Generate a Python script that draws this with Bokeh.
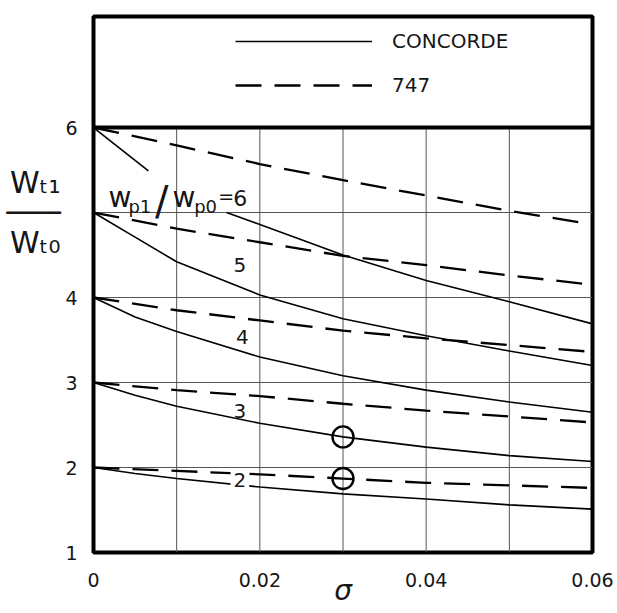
from bokeh.plotting import figure
from bokeh.models import FixedTicker, Span, Label, Legend, LegendItem, LinearAxis
from bokeh.core.properties import value
from bokeh.embed import file_html
from bokeh.resources import INLINE

nan = float("nan")

# ---- data ----
sigma = [0, 0.005, 0.01, 0.02, 0.03, 0.04, 0.05, 0.06]
concorde_2 = [2, 1.93, 1.87, 1.77, 1.69, 1.63, 1.56, 1.51]
concorde_3 = [3, 2.85, 2.72, 2.52, 2.36, 2.24, 2.14, 2.07]
concorde_4 = [4, 3.77, 3.60, 3.30, 3.08, 2.91, 2.77, 2.65]
concorde_5 = [5, 4.71, 4.42, 4.03, 3.75, 3.55, 3.37, 3.20]
# ratio 6 curve is interrupted by its label
sigma_c6 = [0, 0.0066, nan, 0.016, 0.02, 0.03, 0.04, 0.05, 0.06]
concorde_6 = [6, 5.49, nan, 5.00, 4.86, 4.50, 4.20, 3.95, 3.69]

sigma_747 = [0, 0.01, 0.02, 0.03, 0.04, 0.05, 0.06]
b747_2 = [2, 1.96, 1.92, 1.87, 1.82, 1.79, 1.76]
b747_3 = [3, 2.91, 2.84, 2.75, 2.67, 2.60, 2.53]
b747_4 = [4, 3.85, 3.73, 3.61, 3.52, 3.44, 3.36]
b747_5 = [5, 4.81, 4.65, 4.49, 4.38, 4.26, 4.15]
b747_6 = [6, 5.79, 5.57, 5.38, 5.20, 5.02, 4.86]

circle_sigma = [0.03, 0.03]
circle_ratio = [2.36, 1.87]

line_label_text = ["5", "4", "3"]
line_label_sigma = [0.0176, 0.0179, 0.0176]
line_label_ratio = [4.38, 3.53, 2.67]
label2_text = ["2"]
label2_sigma = [0.0176]
label2_ratio = [1.85]

x_ticks = [0, 0.02, 0.04, 0.06]
x_tick_labels = ["0", "0.02", "0.04", "0.06"]
y_ticks = [1, 2, 3, 4, 6]
y_title_tick = 5
y_title = "W\u209c\u2081\n\u2500\u2500\u2500\nW\u209c\u2080"
grid_x = [0.01, 0.02, 0.03, 0.04, 0.05]
grid_y = [2, 3, 4, 5]

FONT = "DejaVu Sans"
INK = "#161616"

p = figure(frame_width=499, frame_height=536, x_range=(0, 0.06), y_range=(1, 7.306),
           min_border_left=93, min_border_right=22, min_border_top=16, min_border_bottom=61,
           output_backend="svg", toolbar_location=None)
p.background_fill_color = "white"
p.border_fill_color = "white"
p.outline_line_color = "black"
p.outline_line_width = 4
p.xgrid.visible = False
p.ygrid.visible = False

def style_axis(ax, size="19px"):
    ax.axis_line_color = None
    ax.major_tick_line_color = None
    ax.minor_tick_line_color = None
    ax.major_tick_out = 0
    ax.major_tick_in = 0
    ax.minor_tick_out = 0
    ax.minor_tick_in = 0
    ax.major_label_text_font = FONT
    ax.major_label_text_font_size = size
    ax.major_label_text_color = INK

style_axis(p.xaxis[0])
style_axis(p.yaxis[0])
p.xaxis.ticker = FixedTicker(ticks=x_ticks)
p.xaxis.major_label_overrides = dict(zip(x_ticks, x_tick_labels))
p.xaxis.major_label_standoff = 20
p.xaxis.axis_label = "\u03c3"
p.xaxis.axis_label_text_font = FONT
p.xaxis.axis_label_text_font_size = "28px"
p.xaxis.axis_label_text_font_style = "italic"
p.xaxis.axis_label_text_color = INK
p.xaxis.axis_label_standoff = -16
p.yaxis.ticker = FixedTicker(ticks=y_ticks)
p.yaxis.major_label_standoff = 16

# second left axis carrying the y title W_t1 / W_t0 at the level 5
title_axis = LinearAxis(ticker=FixedTicker(ticks=[y_title_tick]),
                        major_label_overrides={y_title_tick: y_title})
style_axis(title_axis, size="30px")
title_axis.major_label_standoff = 2
title_axis.major_label_text_line_height = 0.85
p.add_layout(title_axis, "left")

# grid (only within the chart part, not the legend box)
p.segment(x0=grid_x, y0=[1] * len(grid_x), x1=grid_x, y1=[6] * len(grid_x),
          line_color="#555555", line_width=1)
p.segment(x0=[0] * len(grid_y), y0=grid_y, x1=[0.06] * len(grid_y), y1=grid_y,
          line_color="#555555", line_width=1)
p.add_layout(Span(location=6, dimension="width", line_color="black", line_width=4))

solid = dict(line_color="black", line_width=1.6)
dashed = dict(line_color="black", line_width=2.3, line_dash="26 13")

rc = p.line(sigma, concorde_2, **solid)
for vals in (concorde_3, concorde_4, concorde_5):
    p.line(sigma, vals, **solid)
p.line(sigma_c6, concorde_6, **solid)

rb = p.line(sigma_747, b747_2, **dashed)
for vals in (b747_3, b747_4, b747_5, b747_6):
    p.line(sigma_747, vals, **dashed)

p.scatter(x=circle_sigma, y=circle_ratio, marker="circle", size=21,
          fill_color=None, line_color="black", line_width=2.4)

p.text(x=line_label_sigma, y=line_label_ratio, text=line_label_text,
       text_font=value(FONT), text_font_size="20px", text_color=INK,
       text_align="center", text_baseline="middle")
p.text(x=label2_sigma, y=label2_ratio, text=label2_text,
       text_font=value(FONT), text_font_size="20px", text_color=INK,
       text_align="center", text_baseline="middle",
       background_fill_color="white", padding=3)

def lab(x, y, t, size, baseline="alphabetic", style="normal", align="left"):
    p.add_layout(Label(x=x, y=y, text=t, text_font=FONT, text_font_size=size,
                       text_color=INK, text_baseline=baseline, text_align=align,
                       text_font_style=style))

# in-plot ratio label  w_p1 / w_p0 = 6
lab(0.0018, 5.176, "w", "28px")
lab(0.0042, 5.07, "p1", "18px")
lab(0.0074, 5.13, "/", "40px")
lab(0.0095, 5.176, "w", "28px")
lab(0.0121, 5.07, "p0", "18px")
lab(0.0150, 5.19, "=", "19px")
lab(0.0168, 5.165, "6", "22px")

legend = Legend(items=[LegendItem(label="CONCORDE", renderers=[rc]),
                       LegendItem(label="747", renderers=[rb])],
                location=(142, 455), orientation="vertical",
                glyph_width=137, glyph_height=20, label_height=20,
                label_standoff=20, spacing=20, padding=0, margin=0,
                border_line_color=None, background_fill_alpha=0,
                label_text_font=FONT, label_text_font_size="20px",
                label_text_color=INK)
p.add_layout(legend)

open("out.html", "w").write(file_html(p, INLINE))
